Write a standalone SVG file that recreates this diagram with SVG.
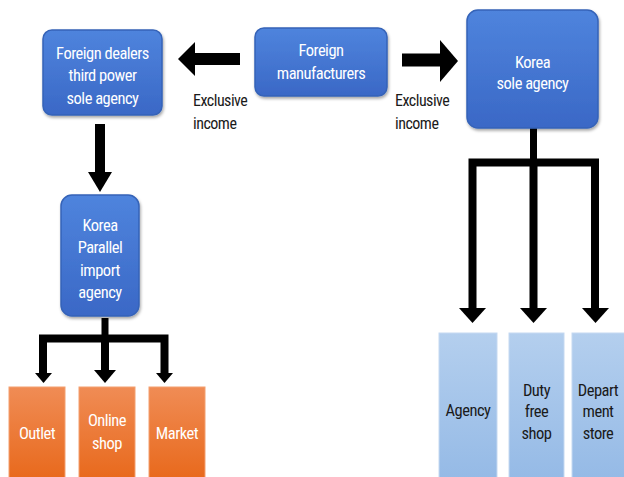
<svg xmlns="http://www.w3.org/2000/svg" width="624" height="477" viewBox="0 0 624 477">
<defs>
<linearGradient id="gBlue" x1="0" y1="0" x2="0" y2="1"><stop offset="0" stop-color="#4f84dd"/><stop offset="1" stop-color="#3a68c6"/></linearGradient>
<linearGradient id="gOrange" x1="0" y1="0" x2="0" y2="1"><stop offset="0" stop-color="#f08c55"/><stop offset="1" stop-color="#e8691c"/></linearGradient>
<linearGradient id="gLight" x1="0" y1="0" x2="0" y2="1"><stop offset="0" stop-color="#b4cfee"/><stop offset="1" stop-color="#95bae6"/></linearGradient>
<filter id="sh" x="-10%" y="-10%" width="130%" height="130%"><feDropShadow dx="1" dy="2" stdDeviation="1.5" flood-color="#000" flood-opacity="0.35"/></filter>
</defs>
<style>
.blue{fill:url(#gBlue);stroke:#3563b8;stroke-width:1.5;filter:url(#sh)}
.orange{fill:url(#gOrange);stroke:#f3a070;stroke-width:1}
.light{fill:url(#gLight);stroke:#c5d9f1;stroke-width:1}
.t,.tl,.lab{font-family:"Roboto Condensed",Roboto,"Open Sans",sans-serif;font-size:16.5px;letter-spacing:-0.5px}
.t{fill:#fff;text-anchor:middle}
.tl{fill:#1a1a1a;text-anchor:middle}
.lab{fill:#1a1a1a;text-anchor:start;font-size:16px}
.sh{fill:none;stroke:#000;stroke-linejoin:miter}
.hd{fill:#000}
</style>
<rect width="624" height="477" fill="#fff"/>
<g id="connectors">
<path class="sh" d="M240 59 H194" stroke-width="12"/>
<polygon class="hd" points="195,42 195,76 178,59"/>
<path class="sh" d="M402 60 H441" stroke-width="13"/>
<polygon class="hd" points="440,40 440,82 458,61"/>
<path class="sh" d="M100 124 V173" stroke-width="10"/>
<polygon class="hd" points="88,172 112,172 100,192"/>
<path class="sh" d="M105 318 V338" stroke-width="7"/>
<path class="sh" d="M43 374 V338.5 H164.5 V374 M105 338 V371" stroke-width="8"/>
<polygon class="hd" points="35,373 52,373 43.5,383"/>
<polygon class="hd" points="94,370 116,370 105,383"/>
<polygon class="hd" points="156,373 173,373 164.5,383"/>
<path class="sh" d="M533.5 128 V162" stroke-width="7"/>
<path class="sh" d="M472.5 309 V162.5 H595 V309 M533.5 162 V309" stroke-width="8"/>
<polygon class="hd" points="459,308 486,308 472.5,323"/>
<polygon class="hd" points="520,308 547,308 533.5,323"/>
<polygon class="hd" points="582,308 609,308 595.5,323"/>
</g>
<g id="lbl-left"><text class="lab" x="193" y="106">Exclusive</text><text class="lab" x="193" y="129">income</text></g>
<g id="lbl-right"><text class="lab" x="395" y="106">Exclusive</text><text class="lab" x="395" y="129">income</text></g>
<g id="foreign-dealers"><rect class="blue" x="43" y="30" width="119" height="85" rx="9"/>
<text class="t" x="102.5" y="59">Foreign dealers</text><text class="t" x="102.5" y="81">third power</text><text class="t" x="102.5" y="104">sole agency</text></g>
<g id="foreign-manufacturers"><rect class="blue" x="255" y="28" width="132" height="68" rx="9"/>
<text class="t" x="321" y="56">Foreign</text><text class="t" x="321" y="79">manufacturers</text></g>
<g id="korea-sole"><rect class="blue" x="467" y="10" width="131" height="118" rx="11"/>
<text class="t" x="532.5" y="68">Korea</text><text class="t" x="532.5" y="89">sole agency</text></g>
<g id="korea-parallel"><rect class="blue" x="61" y="195" width="78" height="121" rx="11"/>
<text class="t" x="100" y="231">Korea</text><text class="t" x="100" y="253">Parallel</text><text class="t" x="100" y="276">import</text><text class="t" x="100" y="298">agency</text></g>
<g id="outlet"><rect class="orange" x="9" y="387" width="56" height="92"/><text class="t" x="37" y="439">Outlet</text></g>
<g id="online-shop"><rect class="orange" x="79" y="387" width="56" height="92"/><text class="t" x="107" y="426">Online</text><text class="t" x="107" y="449">shop</text></g>
<g id="market"><rect class="orange" x="149" y="387" width="56" height="92"/><text class="t" x="177" y="439">Market</text></g>
<g id="agency"><rect class="light" x="439" y="333" width="58" height="146"/><text class="tl" x="468" y="416">Agency</text></g>
<g id="duty-free"><rect class="light" x="509" y="333" width="55" height="146"/><text class="tl" x="536.5" y="396">Duty</text><text class="tl" x="536.5" y="417">free</text><text class="tl" x="536.5" y="439">shop</text></g>
<g id="department"><rect class="light" x="572" y="333" width="54" height="146"/><text class="tl" x="598" y="396">Depart</text><text class="tl" x="598" y="417">ment</text><text class="tl" x="598" y="439">store</text></g>
</svg>
